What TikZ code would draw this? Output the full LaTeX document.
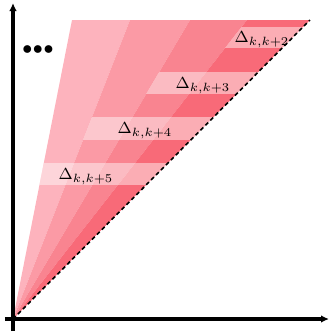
\documentclass[tikz,border=0pt]{standalone}
\usetikzlibrary{arrows.meta}
\definecolor{wA}{HTML}{FDB3BD}
\definecolor{wB}{HTML}{FB9AA5}
\definecolor{wC}{HTML}{F98490}
\definecolor{wD}{HTML}{F86A78}
\tikzset{
  axis/.style={line width=1.6pt,-{Latex[length=4pt,width=3.8pt]}},
  band/.style={fill=white,fill opacity=0.45},
  lbl/.style={font=\footnotesize,inner sep=0pt},
  diag/.style={line width=0.8pt,dash pattern=on 2pt off 1.5pt},
}
\begin{document}
\begin{tikzpicture}[x=0.5pt,y=-0.5pt]
\useasboundingbox (0,0) rectangle (330,333);
\coordinate (O) at (13,319);
\coordinate (T0) at (72,20);
\coordinate (T1) at (130,20);
\coordinate (T2) at (190,20);
\coordinate (T3) at (247,20);
\coordinate (T4) at (310,20);
% wedges
\fill[wA] (O) -- (T0) -- (T1) -- cycle;
\fill[wB] (O) -- (T1) -- (T2) -- cycle;
\fill[wC] (O) -- (T2) -- (T3) -- cycle;
\fill[wD] (O) -- (T3) -- (T4) -- cycle;
% bands
\begin{scope}
\clip (O) -- (T3) -- (T4) -- cycle;
\fill[band] (0,27) rectangle (330,48);
\end{scope}
\begin{scope}
\clip (O) -- (T2) -- (T4) -- cycle;
\fill[band] (0,72) rectangle (330,94);
\end{scope}
\begin{scope}
\clip (O) -- (T1) -- (T4) -- cycle;
\fill[band] (0,117) rectangle (330,140);
\end{scope}
\begin{scope}
\clip (O) -- (T0) -- (T4) -- cycle;
\fill[band] (0,163) rectangle (330,185);
\end{scope}
% diagonal
\draw[diag] (O) -- (T4);
% axes
\coordinate (Yb) at (13,331);
\coordinate (Yt) at (13,3);
\coordinate (Xl) at (5,319);
\coordinate (Xr) at (329,319);
\draw[axis] (Yb) -- (Yt);
\draw[axis] (Xl) -- (Xr);
% labels
\node[lbl] (d2) at (262,40) {$\Delta_{k,k+2}$};
\node[lbl] (d3) at (203,86) {$\Delta_{k,k+3}$};
\node[lbl] (d4) at (145,131) {$\Delta_{k,k+4}$};
\node[lbl] (d5) at (86,177) {$\Delta_{k,k+5}$};
\node[inner sep=0pt] (dots) at (38,50) {$\bullet\mkern-3.5mu\bullet\mkern-3.5mu\bullet$};
\end{tikzpicture}
\end{document}
